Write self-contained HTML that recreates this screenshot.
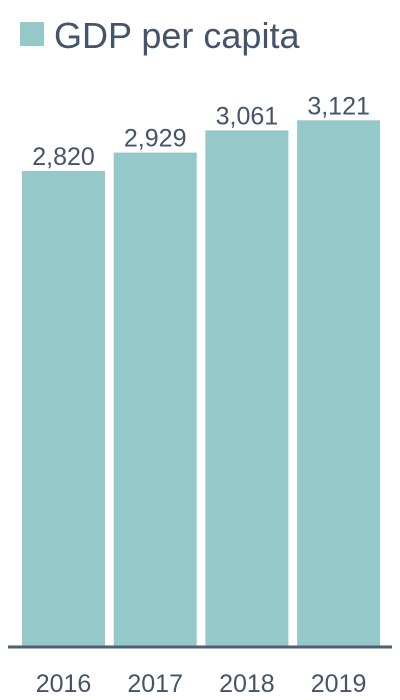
<!DOCTYPE html>
<html><head><style>
body{margin:0;background:#fff;}
svg{display:block;font-family:"Liberation Sans",Arial,sans-serif;}
</style></head><body>
<svg id="c" width="400" height="700">
<rect x="20" y="22" width="24" height="24" fill="#95c8c8"/>
<text x="54" y="48" font-size="36" fill="#44546a">GDP per capita</text>
<line x1="8" x2="392" y1="647" y2="647" stroke="#4d5f72" stroke-width="3"/>
</svg>
<script>
const categories=["2016","2017","2018","2019"];
const values=[2820,2929,3061,3121];
const labels=["2,820","2,929","3,061","3,121"];
const svg=document.getElementById('c');
const NS="http://www.w3.org/2000/svg";
const base=646,scale=475/2820;
const y=v=>base-v*scale;
const x=i=>22+i*91.7;
const bw=83;
categories.forEach((c,i)=>{
  const r=document.createElementNS(NS,'rect');
  r.setAttribute('x',x(i));r.setAttribute('y',y(values[i]));
  r.setAttribute('width',bw);r.setAttribute('height',base-y(values[i]));
  r.setAttribute('fill','#95c8c8');
  
  
  svg.insertBefore(r,svg.querySelector('line'));
  const t=document.createElementNS(NS,'text');
  t.setAttribute('x',x(i)+bw/2);t.setAttribute('y',y(values[i])-6);
  t.setAttribute('text-anchor','middle');t.setAttribute('font-size','25');t.setAttribute('fill','#44546a');
  t.textContent=labels[i];
  
  
  svg.appendChild(t);
  const a=document.createElementNS(NS,'text');
  a.setAttribute('x',x(i)+bw/2);a.setAttribute('y',692);
  a.setAttribute('text-anchor','middle');a.setAttribute('font-size','25');a.setAttribute('fill','#44546a');
  a.textContent=c;
  
  
  svg.appendChild(a);
});
</script>
</body></html>
